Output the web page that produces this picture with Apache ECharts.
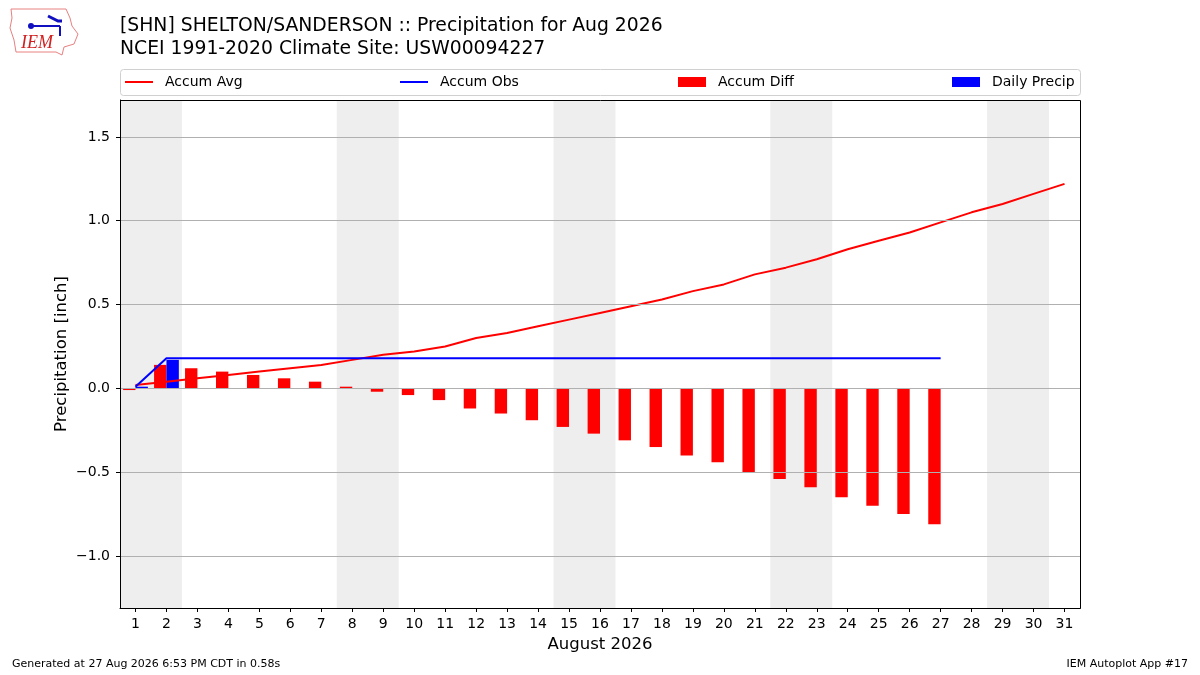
<!DOCTYPE html>
<html>
<head>
<meta charset="utf-8">
<script src="https://cdn.jsdelivr.net/npm/echarts@6/dist/echarts.min.js"></script>
<style>
html, body { margin: 0; padding: 0; background: #fff; }
#chart { width: 1200px; height: 675px; }
</style>
</head>
<body>
<div id="chart"></div>
<script>
// values (inches)
const days = [1, 2, 3, 4, 5, 6, 7, 8, 9, 10, 11, 12, 13, 14, 15, 16,
    17, 18, 19, 20, 21, 22, 23, 24, 25, 26, 27, 28, 29, 30, 31];
const accumAvg = [0.02, 0.04, 0.06, 0.08, 0.10, 0.12, 0.14, 0.17, 0.20, 0.22,
    0.25, 0.30, 0.33, 0.37, 0.41, 0.45, 0.49, 0.53, 0.58, 0.62, 0.68, 0.72,
    0.77, 0.83, 0.88, 0.93, 0.99, 1.05, 1.10, 1.16, 1.22];
const accumObs = [0.01, 0.18, 0.18, 0.18, 0.18, 0.18, 0.18, 0.18, 0.18, 0.18,
    0.18, 0.18, 0.18, 0.18, 0.18, 0.18, 0.18, 0.18, 0.18, 0.18, 0.18, 0.18,
    0.18, 0.18, 0.18, 0.18, 0.18];
const accumDiff = [-0.01, 0.14, 0.12, 0.10, 0.08, 0.06, 0.04, 0.01, -0.02, -0.04,
    -0.07, -0.12, -0.15, -0.19, -0.23, -0.27, -0.31, -0.35, -0.40, -0.44,
    -0.50, -0.54, -0.59, -0.65, -0.70, -0.75, -0.81];
const dailyPrecip = [0.01, 0.17, 0, 0, 0, 0, 0, 0, 0, 0, 0, 0, 0, 0, 0, 0,
    0, 0, 0, 0, 0, 0, 0, 0, 0, 0, 0];
const weekends = [[1, 2], [8, 9], [15, 16], [22, 23], [29, 30]];
const yTicks = [-1.0, -0.5, 0.0, 0.5, 1.0, 1.5];

const FONT = 'DejaVu Sans';

function pairs(vals) {
    return vals.map((v, i) => [days[i], v]);
}

// bar drawn from day+offset to day+offset+0.4
function barItem(offset) {
    return function (params, api) {
        const d = api.value(0);
        const v = api.value(1);
        const a = api.coord([d + offset, v]);
        const b = api.coord([d + offset + 0.4, 0]);
        return {
            type: 'rect',
            shape: {
                x: Math.min(a[0], b[0]), y: Math.min(a[1], b[1]),
                width: Math.abs(b[0] - a[0]), height: Math.abs(b[1] - a[1])
            },
            style: { fill: api.visual('color') }
        };
    };
}

const chart = echarts.init(document.getElementById('chart'));

function legendAt(name, left, isLine) {
    return {
        data: [name], left: left, top: 70, icon: 'rect',
        itemWidth: 28, itemHeight: isLine ? 2 : 10, itemGap: 10,
        textStyle: { fontFamily: FONT, fontSize: 14, color: '#000', padding: [0, 0, 0, 7] },
        selectedMode: false
    };
}

const option = {
    animation: false,
    backgroundColor: '#fff',
    textStyle: { fontFamily: FONT },
    title: {
        text: '[SHN] SHELTON/SANDERSON :: Precipitation for Aug 2026\nNCEI 1991-2020 Climate Site: USW00094227',
        left: 115, top: 10,
        textStyle: { fontFamily: FONT, fontSize: 18.8, fontWeight: 'normal', color: '#000', lineHeight: 23 }
    },
    legend: [
        legendAt('Accum Avg', 120, true),
        legendAt('Accum Obs', 395, true),
        legendAt('Accum Diff', 673, false),
        legendAt('Daily Precip', 947, false)
    ],
    grid: {
        left: 120, right: 120, top: 100, bottom: 67, show: false
    },
    xAxis: {
        type: 'value', min: 0.5, max: 31.5, z: 10,
        name: 'August 2026', nameLocation: 'middle', nameGap: 28,
        nameTextStyle: { fontFamily: FONT, fontSize: 16.5, color: '#000' },
        axisLine: { show: true, onZero: false, lineStyle: { color: '#000' } },
        axisTick: { show: true, length: 4, lineStyle: { color: '#000' }, customValues: days },
        axisLabel: { customValues: days, color: '#000', fontFamily: FONT, fontSize: 14, margin: 9 },
        splitLine: { show: false }
    },
    yAxis: {
        type: 'value', min: -1.31, max: 1.72, z: 10,
        name: 'Precipitation [inch]', nameLocation: 'middle', nameGap: 50,
        nameMoveOverlap: false,
        nameTextStyle: { fontFamily: FONT, fontSize: 16.5, color: '#000' },
        axisLine: { show: true, lineStyle: { color: '#000' } },
        axisTick: { show: true, length: 4, lineStyle: { color: '#000' }, customValues: yTicks },
        axisLabel: {
            customValues: yTicks, color: '#000', fontFamily: FONT, fontSize: 14, margin: 10,
            formatter: v => v.toFixed(1).replace('-', '\u2212')
        },
        splitLine: { show: false }
    },
    series: [
        {
            // weekend bands and horizontal grid
            type: 'line', data: [], silent: true, z: 1,
            markArea: {
                silent: true,
                itemStyle: { color: '#eeeeee' },
                data: weekends.map(w => [{ xAxis: w[0] - 0.5 }, { xAxis: w[1] + 0.5 }])
            },
            markLine: {
                silent: true, symbol: 'none', animation: false,
                label: { show: false },
                lineStyle: { color: '#b0b0b0', width: 1, type: 'solid' },
                data: yTicks.map(v => ({ yAxis: v }))
            }
        },
        {
            name: 'Accum Diff', type: 'custom', z: 3,
            itemStyle: { color: '#ff0000' },
            encode: { x: 0, y: 1 },
            renderItem: barItem(-0.4),
            data: pairs(accumDiff)
        },
        {
            name: 'Daily Precip', type: 'custom', z: 3,
            itemStyle: { color: '#0000ff' },
            encode: { x: 0, y: 1 },
            renderItem: barItem(0),
            data: pairs(dailyPrecip)
        },
        {
            name: 'Accum Avg', type: 'line', z: 4, symbol: 'none',
            color: '#ff0000',
            lineStyle: { color: '#ff0000', width: 2 },
            data: pairs(accumAvg)
        },
        {
            name: 'Accum Obs', type: 'line', z: 4, symbol: 'none',
            color: '#0000ff',
            lineStyle: { color: '#0000ff', width: 2 },
            data: pairs(accumObs)
        }
    ],
    graphic: [
        {
            // legend frame
            type: 'rect', left: 120, top: 69, z: 0,
            shape: { width: 960, height: 26, r: 3 },
            style: { fill: '#fff', stroke: '#d0d0d0', lineWidth: 1 }
        },
        {
            // plot frame
            type: 'rect', z: 100, silent: true,
            shape: { x: 120.5, y: 100.5, width: 960, height: 508 },
            style: { fill: 'none', stroke: '#000', lineWidth: 1 }
        },
        {
            // rough state outline for the logo
            type: 'polyline', z: 5,
            shape: { points: [[11, 9], [66, 9], [70, 18], [72, 26], [78, 34], [74, 44], [64, 47], [62, 55], [56, 52], [16, 52], [14, 40], [10, 28], [12, 18], [11, 9]] },
            style: { stroke: '#e88080', lineWidth: 1, fill: 'none' }
        },
        {
            type: 'polyline', z: 5,
            shape: { points: [[30, 26], [60, 26]] },
            style: { stroke: '#1010c0', lineWidth: 2 }
        },
        {
            type: 'polyline', z: 5,
            shape: { points: [[48, 16], [58, 21], [62, 21]] },
            style: { stroke: '#1010c0', lineWidth: 3 }
        },
        {
            type: 'polyline', z: 5,
            shape: { points: [[60, 26], [60, 36]] },
            style: { stroke: '#1010c0', lineWidth: 2 }
        },
        {
            type: 'circle', z: 5, shape: { cx: 31, cy: 26, r: 3 },
            style: { fill: '#1010c0' }
        },
        {
            type: 'text', left: 21, top: 34, z: 5,
            style: { text: 'IEM', fill: '#d02020', font: 'italic 18px "Liberation Serif", serif' }
        },
        {
            type: 'text', left: 12, top: 659,
            style: { text: 'Generated at 27 Aug 2026 6:53 PM CDT in 0.58s', fill: '#000', font: '11px "DejaVu Sans"' }
        },
        {
            type: 'text', right: 12, top: 659,
            style: { text: 'IEM Autoplot App #17', fill: '#000', font: '11px "DejaVu Sans"' }
        }
    ]
};

chart.setOption(option);
</script>
</body>
</html>
